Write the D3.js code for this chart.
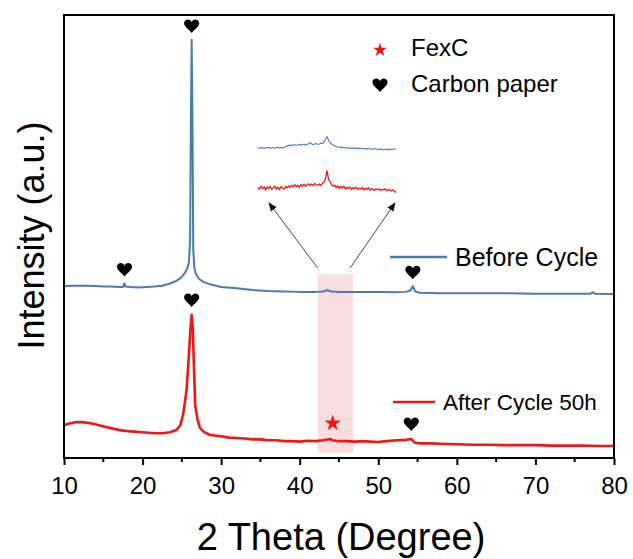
<!DOCTYPE html>
<html>
<head>
<meta charset="utf-8">
<script src="https://cdn.jsdelivr.net/npm/d3@7"></script>
<style>
  html, body { margin: 0; padding: 0; background: #fff; }
  svg { display: block; font-family: "Liberation Sans", Arial, sans-serif; }
</style>
</head>
<body>
<svg id="chart" width="633" height="559"></svg>
<script>
// XRD patterns: carbon paper electrode before cycling and after 50 h cycling.
// Angles are 2θ in degrees, intensities in arbitrary units.
const beforeAngle = [10, 11, 12, 13, 14, 15, 16, 17, 17.5, 17.7, 17.85, 18.5, 19.5, 20.5, 21.5, 22.5, 23.5, 24.3, 24.9, 25.4, 25.7, 25.9, 26.05, 26.15, 26.25, 26.35, 26.45, 26.6, 26.8, 27.2, 27.8, 28.6, 30, 32, 34, 36, 38, 40, 42, 43, 43.5, 44, 45, 47, 50, 52, 53.5, 54.1, 54.4, 54.7, 55.3, 58, 62, 66, 70, 74, 77, 77.3, 77.6, 80];
const beforeIntensity = [38.8, 38.9, 38.9, 38.9, 38.8, 38.7, 38.7, 38.6, 38.6, 39.4, 38.7, 38.6, 38.5, 38.6, 38.7, 38.9, 39.4, 40.0, 40.7, 41.8, 42.9, 44.2, 49.2, 76.3, 94.4, 76.3, 47.0, 42.9, 41.5, 40.4, 39.7, 39.2, 38.6, 38.3, 37.9, 37.7, 37.6, 37.5, 37.5, 37.6, 37.9, 37.6, 37.5, 37.5, 37.5, 37.4, 37.5, 37.8, 38.8, 37.6, 37.3, 37.2, 37.2, 37.2, 37.1, 37.1, 37.1, 37.4, 37.1, 37.0];

const afterAngle = [10, 10.7, 11.5, 12.3, 13.2, 14, 14.8, 15.8, 17, 18.5, 20, 21.5, 22.5, 23.5, 24.3, 24.8, 25.2, 25.6, 25.9, 26.1, 26.25, 26.4, 26.55, 26.7, 27, 27.3, 27.8, 28.6, 30, 31, 32, 33, 34, 35, 36, 37, 38, 39, 40, 41, 42, 43, 43.9, 44.2, 45, 46, 47, 48, 49, 50, 51, 52.5, 53.5, 54.2, 54.6, 55.3, 56.5, 58, 60, 62, 64, 66, 68, 70, 72, 74, 76, 78, 80];
const afterIntensity = [7.4, 7.8, 8.1, 8.1, 7.9, 7.6, 7.2, 6.8, 6.3, 6.0, 5.8, 5.6, 5.6, 5.8, 6.3, 7.4, 10.2, 15.3, 23.3, 29.3, 32.3, 28.9, 19.9, 12.0, 8.6, 6.8, 5.9, 5.2, 4.9, 4.6, 4.5, 4.4, 4.2, 4.2, 4.0, 4.0, 3.8, 3.8, 3.7, 3.9, 3.8, 4.0, 4.3, 4.0, 3.8, 3.8, 3.7, 3.8, 3.7, 3.6, 3.8, 4.0, 4.1, 4.3, 3.5, 3.3, 3.3, 3.2, 3.1, 3.0, 3.0, 2.9, 2.9, 2.9, 2.8, 2.8, 2.8, 2.7, 2.7];

// Enlarged view of the 42–47° window (offsets from each trace's local baseline).
const insetAngle = [42.30, 42.35, 42.40, 42.45, 42.50, 42.55, 42.60, 42.65, 42.70, 42.75, 42.80, 42.85, 42.90, 42.95, 43.00, 43.05, 43.10, 43.15, 43.20, 43.25, 43.30, 43.35, 43.40, 43.45, 43.50, 43.55, 43.60, 43.65, 43.70, 43.75, 43.80, 43.85, 43.90, 43.95, 44.00, 44.05, 44.10, 44.15, 44.20, 44.25, 44.30, 44.35, 44.40, 44.45, 44.50, 44.55, 44.60, 44.65, 44.70, 44.75, 44.80, 44.85, 44.90, 44.95, 45.00, 45.05, 45.10, 45.15, 45.20, 45.25, 45.30, 45.35, 45.40, 45.45, 45.50, 45.55, 45.60, 45.65, 45.70, 45.75, 45.80, 45.85, 45.90, 45.95, 46.00, 46.05, 46.10, 46.15, 46.20, 46.25, 46.30, 46.35, 46.40, 46.45, 46.50, 46.55, 46.60, 46.65, 46.70, 46.75, 46.80];
const insetBefore = [0.3, -0.4, 0.6, 0.1, -0.5, 0.4, 0.0, 0.7, -0.3, 0.2, 0.5, -0.2, 0.3, 0.8, 0.1, 0.6, -0.1, 0.4, 1.2, 2.3, 2.8, 2.2, 3.1, 2.6, 3.4, 2.7, 3.0, 3.6, 2.9, 3.3, 3.8, 3.1, 3.5, 4.2, 5.6, 4.0, 3.4, 3.9, 4.4, 3.6, 4.1, 4.8, 4.3, 5.9, 8.6, 11.4, 8.2, 5.3, 4.0, 2.9, 2.2, 1.6, 1.0, 0.6, 1.1, 0.3, 0.7, -0.2, 0.4, -0.1, 0.2, -0.6, 0.1, -0.4, 0.3, -0.8, -0.2, -0.7, 0.0, -0.9, -0.5, -1.1, -0.3, -1.2, -0.8, -1.5, -0.6, -1.3, -1.0, -1.7, -0.9, -1.4, -2.0, -1.1, -1.6, -1.2, -1.9, -1.0, -1.5, -0.8, -1.3];
const insetAfter = [0.5, -1.2, 1.8, -0.6, 1.1, -1.8, 0.9, -0.3, 1.6, -1.4, 0.4, 1.9, -1.0, 0.7, -1.6, 1.2, 0.1, -1.1, 1.5, 0.2, 2.1, 0.6, 2.8, 1.0, 3.2, 1.5, 2.6, 0.9, 3.4, 2.0, 3.7, 1.8, 3.1, 4.2, 2.4, 3.8, 2.2, 4.5, 3.0, 2.7, 3.9, 2.5, 4.6, 5.8, 9.5, 17.5, 9.0, 6.2, 3.1, 1.8, 2.9, 0.6, 2.2, -0.3, 1.5, 0.2, 1.7, -0.8, 0.9, -0.2, 1.1, -1.3, 0.4, -0.7, 0.8, -1.6, -0.1, -1.0, 0.5, -1.9, -0.4, -1.5, 0.2, -2.1, -0.8, -1.4, -2.4, -0.6, -1.8, -1.1, -2.6, -1.2, -2.0, -0.9, -2.7, -1.6, -2.2, -3.0, -1.8, -3.4, -4.5];

// Phase markers: 2θ positions and which pattern they sit on.
const carbonPeaksBefore = [17.7, 26.25, 54.4];
const carbonPeaksAfter = [26.25, 54.2];
const fexcPeaksAfter = [44.2];

const xTicks = [10, 20, 30, 40, 50, 60, 70, 80];
const xMinorTicks = [15, 25, 35, 45, 55, 65, 75];
const highlightWindow = [42.3, 46.8];

const seriesNames = ["Before Cycle", "After Cycle 50h"];
const legendMarkers = ["FexC", "Carbon paper"];

const BLUE = "#4a7ab5";
const RED = "#f41414";
const FONT = "'Liberation Sans', Arial, sans-serif";

const svg = d3.select("#chart");
const plot = { left: 64, right: 614, top: 15, bottom: 458 };

const x = d3.scaleLinear().domain([10, 80]).range([plot.left, plot.right]);
const y = d3.scaleLinear().domain([0, 100]).range([plot.bottom, plot.top]);

// Heart symbol for the carbon-paper reflections.
const symbolHeart = {
  draw(ctx, size) {
    const r = Math.sqrt(size) / 2;
    ctx.moveTo(0, r * 0.95);
    ctx.bezierCurveTo(-r * 0.3, r * 0.5, -r, r * 0.1, -r, -r * 0.35);
    ctx.bezierCurveTo(-r, -r * 0.9, -r * 0.2, -r * 1.05, 0, -r * 0.5);
    ctx.bezierCurveTo(r * 0.2, -r * 1.05, r, -r * 0.9, r, -r * 0.35);
    ctx.bezierCurveTo(r, r * 0.1, r * 0.3, r * 0.5, 0, r * 0.95);
    ctx.closePath();
  }
};

// Highlighted angular window
svg.append("rect")
  .attr("x", x(highlightWindow[0]))
  .attr("width", x(highlightWindow[1]) - x(highlightWindow[0]))
  .attr("y", y(41.5))
  .attr("height", y(1.2) - y(41.5))
  .attr("fill", "#f8dadd")
  .attr("opacity", 0.9);

const line = d3.line().x(d => x(d[0])).y(d => y(d[1]));
const beforeData = d3.zip(beforeAngle, beforeIntensity);
const afterData = d3.zip(afterAngle, afterIntensity);

svg.append("path").datum(beforeData)
  .attr("d", line).attr("fill", "none")
  .attr("stroke", BLUE).attr("stroke-width", 2).attr("stroke-linejoin", "round");
svg.append("path").datum(afterData)
  .attr("d", line).attr("fill", "none")
  .attr("stroke", RED).attr("stroke-width", 2.6).attr("stroke-linejoin", "round");

// Peak markers placed just above the pattern
function valueAt(angles, vals, a) {
  const i = d3.minIndex(angles, v => Math.abs(v - a));
  return vals[i];
}
const GAP = 14;
const heart = d3.symbol().type(symbolHeart).size(230);
const star = d3.symbol().type(d3.symbolStar);

svg.selectAll(".cp-before").data(carbonPeaksBefore).join("path")
  .attr("transform", a => `translate(${x(a)},${y(valueAt(beforeAngle, beforeIntensity, a)) - GAP})`)
  .attr("d", heart).attr("fill", "#000");
svg.selectAll(".cp-after").data(carbonPeaksAfter).join("path")
  .attr("transform", a => `translate(${x(a)},${y(valueAt(afterAngle, afterIntensity, a)) - GAP - 1})`)
  .attr("d", heart).attr("fill", "#000");
svg.selectAll(".fexc").data(fexcPeaksAfter).join("path")
  .attr("transform", a => `translate(${x(a)},${y(valueAt(afterAngle, afterIntensity, a)) - GAP - 3})`)
  .attr("d", star.size(85)).attr("fill", RED);

// Inset: enlarged window
const ix = d3.scaleLinear().domain(highlightWindow).range([258, 396]);
const iyBefore = d3.scaleLinear().domain([0, 10]).range([148, 138]);
const iyAfter = d3.scaleLinear().domain([0, 10]).range([188, 178]);
svg.append("path").datum(d3.zip(insetAngle, insetBefore))
  .attr("d", d3.line().x(d => ix(d[0])).y(d => iyBefore(d[1])))
  .attr("fill", "none").attr("stroke", BLUE).attr("stroke-width", 1.1);
svg.append("path").datum(d3.zip(insetAngle, insetAfter))
  .attr("d", d3.line().x(d => ix(d[0])).y(d => iyAfter(d[1])))
  .attr("fill", "none").attr("stroke", RED).attr("stroke-width", 1.3);

// Arrows from the window to the inset
const defs = svg.append("defs");
defs.append("marker").attr("id", "arrow")
  .attr("viewBox", "0 0 10 10").attr("refX", 9).attr("refY", 5)
  .attr("markerWidth", 9).attr("markerHeight", 9).attr("markerUnits", "userSpaceOnUse")
  .attr("orient", "auto")
  .append("path").attr("d", "M0,1 L10,5 L0,9 Z").attr("fill", "#111");
const arrowBaseY = y(41.5) - 6;
[[highlightWindow[0], ix.range()[0] + 11], [highlightWindow[1] - 0.4, ix.range()[1] - 1]].forEach(([a, tipX]) => {
  svg.append("line")
    .attr("x1", x(a)).attr("y1", arrowBaseY)
    .attr("x2", tipX).attr("y2", iyAfter(-15))
    .attr("stroke", "#333").attr("stroke-width", 0.9)
    .attr("marker-end", "url(#arrow)");
});

// Frame
svg.append("rect")
  .attr("x", plot.left).attr("y", plot.top)
  .attr("width", plot.right - plot.left).attr("height", plot.bottom - plot.top)
  .attr("fill", "none").attr("stroke", "#000").attr("stroke-width", 2);

// Bottom axis
const xAxis = svg.append("g").attr("transform", `translate(0,${plot.bottom})`)
  .call(d3.axisBottom(x).tickValues(xTicks).tickSize(7).tickPadding(12).tickFormat(d3.format("d")));
xAxis.select(".domain").remove();
xAxis.selectAll(".tick line").attr("stroke", "#000").attr("stroke-width", 2);
xAxis.selectAll(".tick text").attr("font-family", FONT).attr("font-size", 24).attr("fill", "#000");
svg.append("g").selectAll("line").data(xMinorTicks).join("line")
  .attr("x1", d => x(d)).attr("x2", d => x(d))
  .attr("y1", plot.bottom).attr("y2", plot.bottom + 4)
  .attr("stroke", "#000").attr("stroke-width", 2);

// Axis titles
svg.append("text")
  .attr("x", (plot.left + plot.right) / 2 + 2).attr("y", 550)
  .attr("text-anchor", "middle").attr("font-family", FONT).attr("font-size", 38)
  .text("2 Theta (Degree)");
svg.append("text")
  .attr("transform", `translate(44,${(plot.top + plot.bottom) / 2 - 1}) rotate(-90)`)
  .attr("text-anchor", "middle").attr("font-family", FONT).attr("font-size", 36)
  .text("Intensity (a.u.)");

// Marker legend
const markerLegend = svg.append("g");
markerLegend.append("path").attr("transform", "translate(380,50)")
  .attr("d", star.size(60)).attr("fill", RED);
markerLegend.append("path").attr("transform", "translate(380,85)")
  .attr("d", heart).attr("fill", "#000");
markerLegend.selectAll("text").data(legendMarkers).join("text")
  .attr("x", 411).attr("y", (d, i) => 56 + i * 36)
  .attr("font-family", FONT).attr("font-size", 24).text(d => d);

// Series labels
const seriesLabels = [
  { name: seriesNames[0], color: BLUE, x1: 390, x2: 447, y: 257, size: 25 },
  { name: seriesNames[1], color: RED, x1: 393, x2: 435, y: 402, size: 22.5 }
];
seriesLabels.forEach(s => {
  svg.append("line").attr("x1", s.x1).attr("x2", s.x2).attr("y1", s.y).attr("y2", s.y)
    .attr("stroke", s.color).attr("stroke-width", 2.5);
  svg.append("text").attr("x", s.x2 + 8).attr("y", s.y + s.size * 0.36)
    .attr("font-family", FONT).attr("font-size", s.size).text(s.name);
});
</script>
</body>
</html>
